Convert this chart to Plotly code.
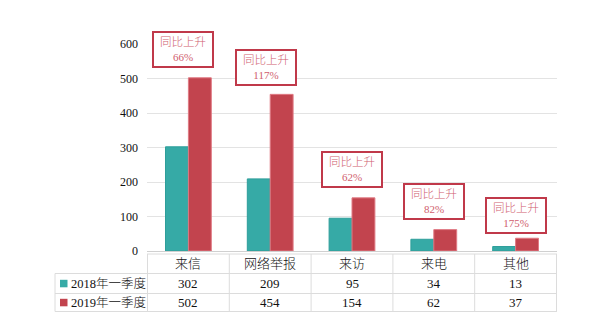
import plotly.graph_objects as go

categories = ["来信", "网络举报", "来访", "来电", "其他"]
series_names = ["2018年一季度", "2019年一季度"]
values_2018 = [302, 209, 95, 34, 13]
values_2019 = [502, 454, 154, 62, 37]
growth_labels = ["66%", "117%", "62%", "82%", "175%"]
y_ticks = [0, 100, 200, 300, 400, 500, 600]

TEAL = "#36AAA6"
RED = "#C2444E"
GRID = "#E3E3E3"
SERIF = "Liberation Serif, Noto Sans CJK SC, serif"

W, H = 600, 336
L, R, T, B = 147, 43, 44, 85
PW, PH = W - L - R, H - T - B


def py(p):  # pixel y -> paper
    return (H - B - p) / PH


def px(p):  # pixel x -> paper
    return (p - L) / PW


fig = go.Figure()
fig.add_bar(x=categories, y=values_2018, name=series_names[0],
            marker=dict(color=TEAL, line=dict(color="#2E9E9A", width=1)))
fig.add_bar(x=categories, y=values_2019, name=series_names[1],
            marker=dict(color=RED, line=dict(color="#E07A84", width=1)))

shapes = []
annotations = []

# annotation boxes
x_shift = [-5, -4, 0, 0, 0]
y_shift = [10, 8, 10, 10, 4]
for i, c in enumerate(categories):
    annotations.append(dict(
        x=i, y=values_2019[i], xref="x", yref="y",
        text="同比上升<br><span style='font-size:11px'>" + growth_labels[i] + "</span>",
        showarrow=False, yanchor="bottom", xanchor="center",
        xshift=x_shift[i], yshift=y_shift[i],
        font=dict(family=SERIF, size=11.5, color="#D0606E", weight=300),
        bgcolor="white", bordercolor="#C0394A", borderwidth=2,
        borderpad=1, width=56, height=31, align="center"))

line_style = dict(color="#DCDCDC", width=1)
top, r1, r2, bot = 254, 273.5, 293.5, 311.5
# horizontal table lines
shapes.append(dict(type="line", xref="paper", yref="paper", x0=0, x1=1,
                   y0=py(top), y1=py(top), line=line_style))
for yy in (r1, r2, bot):
    shapes.append(dict(type="line", xref="paper", yref="paper", x0=px(55), x1=1,
                       y0=py(yy), y1=py(yy), line=line_style))
# vertical table lines
shapes.append(dict(type="line", xref="paper", yref="paper", x0=px(55), x1=px(55),
                   y0=py(r1), y1=py(bot), line=line_style))
for k in range(len(categories) + 1):
    shapes.append(dict(type="line", xref="x", yref="paper", x0=k - 0.5, x1=k - 0.5,
                       y0=py(top), y1=py(bot), line=line_style))

# header and values
row_centers = [(top + r1) / 2, (r1 + r2) / 2, (r2 + bot) / 2]
for i, c in enumerate(categories):
    annotations.append(dict(x=i, y=py(row_centers[0]), xref="x", yref="paper",
                            text=c, showarrow=False, yanchor="middle",
                            font=dict(family=SERIF, size=13, color="#111", weight=300)))
    for j, vals in enumerate((values_2018, values_2019)):
        annotations.append(dict(x=i, y=py(row_centers[j + 1]), xref="x", yref="paper",
                                text=str(vals[i]), showarrow=False, yanchor="middle",
                                font=dict(family=SERIF, size=13, color="#111")))

# row labels with colour keys
for j, (name, col) in enumerate(zip(series_names, (TEAL, RED))):
    yc = row_centers[j + 1]
    shapes.append(dict(type="rect", xref="paper", yref="paper",
                       x0=px(60), x1=px(67.5), y0=py(yc + 3.8), y1=py(yc - 3.7),
                       fillcolor=col, line=dict(width=0)))
    annotations.append(dict(x=px(68.5), y=py(yc), xref="paper", yref="paper",
                            text=name, showarrow=False, xanchor="left", yanchor="middle",
                            font=dict(family=SERIF, size=12.5, color="#111", weight=300)))

fig.update_layout(
    width=W, height=H,
    margin=dict(l=L, r=R, t=T, b=B),
    paper_bgcolor="white", plot_bgcolor="white",
    barmode="group", bargap=0.44, bargroupgap=0,
    showlegend=False,
    shapes=shapes, annotations=annotations,
    font=dict(family=SERIF, size=12, color="#111"),
)
fig.update_xaxes(showticklabels=False, showgrid=False, showline=True,
                 linecolor="#D0D0D0", linewidth=1, ticks="")
fig.update_yaxes(range=[0, 600], tickvals=y_ticks, showgrid=True, gridcolor=GRID,
                 zeroline=False, showline=False, ticks="", ticklabelstandoff=8,
                 tickfont=dict(family=SERIF, size=12, color="#111"))

fig.write_html("out.html")
